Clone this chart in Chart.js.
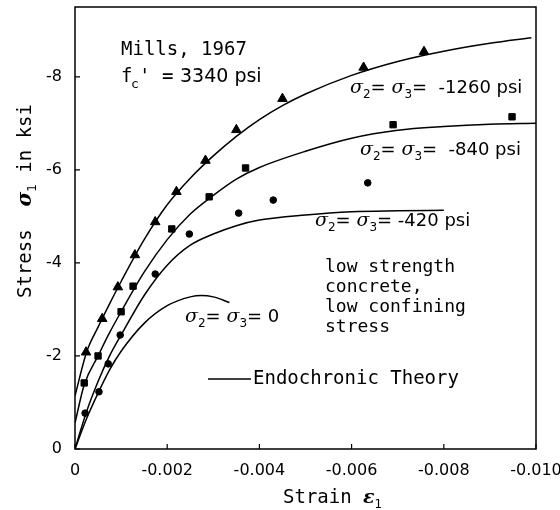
<!DOCTYPE html>
<html><head><meta charset="utf-8">
<script src="https://cdn.jsdelivr.net/npm/chart.js@4.4.1/dist/chart.umd.min.js"></script>
<style>html,body{margin:0;padding:0;background:#fff}#wrap{width:560px;height:510px}</style>
</head><body><div id="wrap"><canvas id="c" width="560" height="510"></canvas></div>
<script>
// ---- tick labels ----
const xTicks = [0, -0.002, -0.004, -0.006, -0.008, -0.010];
const yTicks = [0, -2, -4, -6, -8];

// ---- Endochronic theory curves (strain, stress in ksi) ----
const th1260Strain = [0,-0.00025,-0.0005,-0.00075,-0.001,-0.0015,-0.002,-0.0025,-0.003,-0.0035,-0.004,-0.0045,-0.005,-0.006,-0.007,-0.008,-0.009,-0.0099];
const th1260Stress = [-1.14,-2.08,-2.62,-3.12,-3.6,-4.5,-5.25,-5.82,-6.3,-6.72,-7.08,-7.38,-7.63,-8.03,-8.33,-8.55,-8.72,-8.84];
const th840Strain = [0,-0.0002,-0.0005,-0.00075,-0.001,-0.0015,-0.002,-0.0025,-0.003,-0.0035,-0.004,-0.005,-0.006,-0.007,-0.008,-0.009,-0.010];
const th840Stress = [-0.56,-1.38,-2.0,-2.5,-2.95,-3.8,-4.5,-5.05,-5.45,-5.8,-6.05,-6.4,-6.68,-6.85,-6.93,-6.98,-7.0];
const th420Strain = [0,-0.00025,-0.0005,-0.00075,-0.001,-0.0015,-0.002,-0.0025,-0.003,-0.0035,-0.004,-0.005,-0.006,-0.007,-0.008];
const th420Stress = [0,-0.8,-1.45,-2.0,-2.45,-3.3,-3.95,-4.38,-4.62,-4.8,-4.92,-5.03,-5.1,-5.12,-5.13];
const th0Strain = [0,-0.00025,-0.0005,-0.00075,-0.001,-0.0015,-0.002,-0.0025,-0.00275,-0.003,-0.00335];
const th0Stress = [0,-0.65,-1.2,-1.7,-2.1,-2.7,-3.08,-3.27,-3.3,-3.27,-3.15];

// ---- Mills 1967 test data ----
const tri1260Strain = [-0.00024,-0.00059,-0.00093,-0.0013,-0.00174,-0.0022,-0.00283,-0.0035,-0.0045,-0.00626,-0.00757];
const tri1260Stress = [-2.08,-2.8,-3.48,-4.17,-4.88,-5.53,-6.2,-6.86,-7.53,-8.2,-8.54];
const sq840Strain = [-0.0002,-0.0005,-0.001,-0.00126,-0.0021,-0.00291,-0.0037,-0.0069,-0.00948];
const sq840Stress = [-1.42,-2.0,-2.95,-3.5,-4.73,-5.42,-6.04,-6.97,-7.14];
const dot420Strain = [-0.00022,-0.00052,-0.00072,-0.00098,-0.00174,-0.00248,-0.00355,-0.0043,-0.00635];
const dot420Stress = [-0.77,-1.23,-1.83,-2.45,-3.76,-4.62,-5.07,-5.35,-5.72];

const pts = (xs, ys) => xs.map((x, i) => ({x, y: ys[i]}));
const lineDs = (xs, ys) => ({data: pts(xs, ys), showLine: true, pointRadius: 0, borderColor: '#000', borderWidth: 1.5, cubicInterpolationMode: 'monotone', fill: false});
const markDs = (xs, ys, style, r) => ({data: pts(xs, ys), showLine: false, pointStyle: style, pointRadius: r, backgroundColor: '#000', borderColor: '#000', borderWidth: 1});

const MONO = '18px "DejaVu Sans Mono"';
const MONO19 = '19px "DejaVu Sans Mono"';
const SANS = '18px "DejaVu Sans"';
const SIG = 'italic 19px "DejaVu Serif"';
const SUB = '12px "DejaVu Sans"';

function runs(ctx, x, y, list) {
  let cx = x;
  for (const [t, f, dy] of list) {
    ctx.font = f;
    ctx.fillText(t, cx, y + (dy || 0));
    cx += ctx.measureText(t).width;
  }
  return cx - x;
}
function runsWidth(ctx, list) {
  let w = 0;
  for (const [t, f] of list) { ctx.font = f; w += ctx.measureText(t).width; }
  return w;
}
function sigmaLabel(ctx, x, y, tail) {
  runs(ctx, x, y, [['σ', SIG], ['2', SUB, 5], ['= ', SANS], ['σ', SIG], ['3', SUB, 5], [tail, SANS]]);
}

const overlay = {
  id: 'overlay',
  afterDraw(chart) {
    const ctx = chart.ctx, a = chart.chartArea, xs = chart.scales.x, ys = chart.scales.y;
    ctx.save();
    ctx.strokeStyle = '#000'; ctx.fillStyle = '#000';
    ctx.lineWidth = 1.5;
    ctx.strokeRect(a.left, a.top, a.right - a.left, a.bottom - a.top);
    ctx.lineWidth = 1.2;
    ctx.beginPath();
    for (const v of xTicks) { const p = xs.getPixelForValue(v); ctx.moveTo(p, a.bottom); ctx.lineTo(p, a.bottom - 5); }
    for (const v of yTicks) { const p = ys.getPixelForValue(v); ctx.moveTo(a.left, p); ctx.lineTo(a.left + 5, p); }
    ctx.stroke();

    ctx.textBaseline = 'alphabetic'; ctx.textAlign = 'left';
    // top-left annotation
    runs(ctx, 121, 55, [['Mills, 1967', MONO19]]);
    runs(ctx, 121, 82, [['f', MONO19]]);
    runs(ctx, 131, 88, [['c', '13px "DejaVu Sans Mono"']]);
    runs(ctx, 139, 82, [["' =", MONO19]]);
    runs(ctx, 180, 82, [['3340 psi', '19px "DejaVu Sans"']]);

    // curve labels
    sigmaLabel(ctx, 350, 93, '=  -1260 psi');
    sigmaLabel(ctx, 360, 155, '=  -840 psi');
    sigmaLabel(ctx, 315, 226, '= -420 psi');
    sigmaLabel(ctx, 185, 322, '= 0');

    // description block
    ['low strength', 'concrete,', 'low confining', 'stress'].forEach((t, i) => runs(ctx, 325, 272 + i * 20, [[t, MONO]]));

    // legend
    ctx.lineWidth = 1.5;
    ctx.beginPath(); ctx.moveTo(208, 379); ctx.lineTo(251, 379); ctx.stroke();
    ctx.textBaseline = 'middle';
    runs(ctx, 253, 379, [['Endochronic Theory', MONO19]]);

    // x title
    ctx.textBaseline = 'alphabetic';
    runs(ctx, 283, 503, [['Strain ', MONO19], ['ε', 'bold italic 19px "DejaVu Serif"'], ['1', SUB, 5]]);

    // y title (rotated)
    const yl = [['Stress  ', MONO19], ['σ', 'bold italic 20px "DejaVu Serif"'], ['1', SUB, 5], [' in ksi', MONO19]];
    const w = runsWidth(ctx, yl);
    ctx.translate(31, 201);
    ctx.rotate(-Math.PI / 2);
    runs(ctx, -w / 2, 0, yl);
    ctx.restore();
  }
};

new Chart(document.getElementById('c').getContext('2d'), {
  type: 'scatter',
  data: {
    datasets: [
      lineDs(th1260Strain, th1260Stress),
      lineDs(th840Strain, th840Stress),
      lineDs(th420Strain, th420Stress),
      lineDs(th0Strain, th0Stress),
      markDs(tri1260Strain, tri1260Stress, 'triangle', 5.5),
      markDs(sq840Strain, sq840Stress, 'rect', 4.5),
      markDs(dot420Strain, dot420Stress, 'circle', 3.3)
    ]
  },
  options: {
    responsive: false, animation: false,
    layout: {padding: {left: 0, right: 24, top: 7, bottom: 0}},
    plugins: {legend: {display: false}, tooltip: {enabled: false}},
    scales: {
      x: {
        type: 'linear', min: -0.010, max: 0, reverse: true,
        afterBuildTicks: s => { s.ticks = xTicks.map(v => ({value: v})); },
        afterFit: s => { s.height = 61; s.paddingLeft = 0; s.paddingRight = 0; },
        grid: {display: false, drawTicks: false}, border: {display: false},
        ticks: {padding: 12, color: '#000', autoSkip: false, maxRotation: 0,
          font: {family: 'DejaVu Sans', size: 16},
          callback: v => (v === 0 ? '0' : v.toFixed(3))}
      },
      y: {
        type: 'linear', min: -9.5, max: 0, reverse: true,
        afterBuildTicks: s => { s.ticks = yTicks.map(v => ({value: v})); },
        afterFit: s => { s.width = 75; s.paddingTop = 0; s.paddingBottom = 0; },
        grid: {display: false, drawTicks: false}, border: {display: false},
        ticks: {padding: 13, color: '#000', font: {family: 'DejaVu Sans', size: 16},
          callback: v => String(v)}
      }
    }
  },
  plugins: [overlay]
});
</script>
</body></html>
